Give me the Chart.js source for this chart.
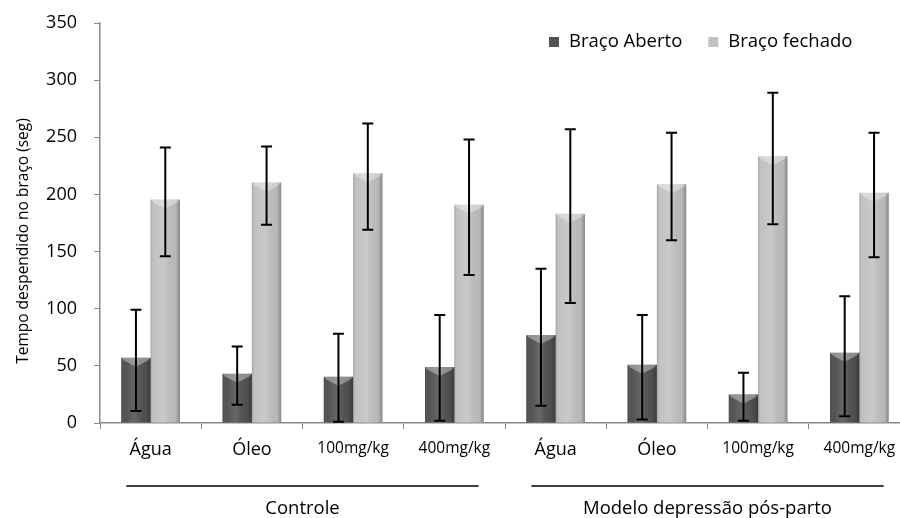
<!DOCTYPE html>
<html>
<head>
<meta charset="utf-8">
<script src="https://cdn.jsdelivr.net/npm/chart.js@4.4.1/dist/chart.umd.min.js"></script>
<style>
  html, body { margin: 0; padding: 0; background: #fff; overflow: hidden; }
  #cadre { width: 912px; height: 518px; }
</style>
</head>
<body>
<div id="cadre"><canvas id="grafico"></canvas></div>
<script>
// Dados
const categorias    = ['Água', 'Óleo', '100mg/kg', '400mg/kg', 'Água', 'Óleo', '100mg/kg', '400mg/kg'];
const bracoAberto   = [57, 43, 40.5, 49, 77, 51, 25, 61.5];
const abertoMin     = [10.5, 16, 1, 2, 15, 3, 2, 6];
const abertoMax     = [99, 67, 78, 94.5, 135, 94.5, 44, 111];
const bracoFechado  = [195.5, 210.5, 218.5, 191, 183, 209, 233.5, 201.5];
const fechadoMin    = [146, 173.5, 169, 129.5, 105, 160, 174, 145];
const fechadoMax    = [241, 242, 262, 248, 257, 254, 289, 254];
const grupos        = ['Controle', 'Modelo depressão pós-parto'];
const gruposInicio  = [0, 4];
const gruposFim     = [3, 7];
const tituloY       = 'Tempo despendido no braço (seg)';
const yMin = 0, yMax = 350, yPasso = 50;

const FONTE = "'Open Sans', 'Noto Sans', sans-serif";

// sombreado das barras + barras de erro
const estiloBarras = {
    id: 'estiloBarras',
    afterDatasetsDraw(chart) {
        const c = chart.ctx;
        const y = chart.scales.y;
        const erros = [[abertoMin, abertoMax], [fechadoMin, fechadoMax]];
        chart.data.datasets.forEach((ds, i) => {
            const meta = chart.getDatasetMeta(i);
            meta.data.forEach((bar, j) => {
                const esq = bar.x - bar.width / 2, dir = bar.x + bar.width / 2;
                const topo = bar.y, base = bar.base;
                // bordas escuras / centro claro
                const g = c.createLinearGradient(esq, 0, dir, 0);
                g.addColorStop(0, 'rgba(0,0,0,0.18)');
                g.addColorStop(0.12, 'rgba(255,255,255,0.0)');
                g.addColorStop(0.45, 'rgba(255,255,255,0.12)');
                g.addColorStop(0.85, 'rgba(0,0,0,0.05)');
                g.addColorStop(1, 'rgba(0,0,0,0.30)');
                c.save();
                c.fillStyle = g;
                c.fillRect(esq, topo, bar.width, base - topo);
                // chanfro claro no topo
                const h = Math.min(9, (base - topo) / 2);
                c.fillStyle = 'rgba(255,255,255,0.35)';
                c.beginPath();
                c.moveTo(esq, topo);
                c.lineTo(dir, topo);
                c.lineTo(dir - 3, topo + 3);
                c.lineTo(bar.x, topo + h);
                c.lineTo(esq + 3, topo + 3);
                c.closePath();
                c.fill();
                c.restore();

                // barra de erro
                const yb = y.getPixelForValue(erros[i][0][j]);
                const ya = y.getPixelForValue(erros[i][1][j]);
                c.save();
                c.strokeStyle = '#000';
                c.lineWidth = 2;
                c.beginPath();
                c.moveTo(bar.x, yb); c.lineTo(bar.x, ya);
                c.moveTo(bar.x - 5.5, ya); c.lineTo(bar.x + 5.5, ya);
                c.moveTo(bar.x - 5.5, yb); c.lineTo(bar.x + 5.5, yb);
                c.stroke();
                c.restore();
            });
        });
    }
};

// legenda, título do eixo Y e nomes dos grupos sob o eixo
const extras = {
    id: 'extras',
    afterDraw(chart) {
        const c = chart.ctx;
        const x = chart.scales.x;
        const area = chart.chartArea;
        const passo = x.getPixelForValue(1) - x.getPixelForValue(0);

        c.save();
        c.font = '18.5px ' + FONTE;
        c.fillStyle = '#000';
        c.textBaseline = 'middle';
        c.textAlign = 'center';
        grupos.forEach((nome, k) => {
            const x1 = x.getPixelForValue(gruposInicio[k]) - passo * 0.24;
            const x2 = x.getPixelForValue(gruposFim[k]) + passo * 0.24;
            const linhaY = area.bottom + 63;
            c.strokeStyle = '#000';
            c.lineWidth = 1.5;
            c.beginPath();
            c.moveTo(x1, linhaY); c.lineTo(x2, linhaY);
            c.stroke();
            c.fillText(nome, (x1 + x2) / 2, area.bottom + 86);
        });

        // título do eixo Y
        c.save();
        c.font = '15.5px ' + FONTE;
        c.translate(24, (area.top + area.bottom) / 2 + 18);
        c.rotate(-Math.PI / 2);
        c.fillText(tituloY, 0, 0);
        c.restore();

        // legenda
        c.font = '18.5px ' + FONTE;
        c.textAlign = 'left';
        const ly = area.top + 19;
        let lx = area.left + 449;
        chart.data.datasets.forEach(ds => {
            c.fillStyle = ds.backgroundColor;
            c.fillRect(lx, ly - 5, 10, 10);
            c.fillStyle = '#000';
            c.fillText(ds.label, lx + 20, ly);
            lx += 20 + c.measureText(ds.label).width + 26;
        });
        c.restore();
    }
};

const ctx = document.getElementById('grafico');

const grafico = new Chart(ctx, {
    type: 'bar',
    data: {
        labels: categorias,
        datasets: [{
            label: 'Braço Aberto',
            data: bracoAberto,
            backgroundColor: '#525252'
        }, {
            label: 'Braço fechado',
            data: bracoFechado,
            backgroundColor: '#c2c2c2'
        }]
    },
    options: {
        responsive: true,
        maintainAspectRatio: false,
        animation: false,
        layout: { padding: { top: 23, right: 2, left: 0, bottom: 0 } },
        datasets: { bar: { categoryPercentage: 0.58, barPercentage: 1.0 } },
        plugins: {
            legend: { display: false },
            tooltip: { enabled: false }
        },
        scales: {
            x: {
                grid: { drawOnChartArea: false, drawTicks: true, tickLength: 6, color: '#888', offset: true },
                border: { color: '#888', width: 1.5 },
                ticks: {
                    color: '#000',
                    padding: 10,
                    maxRotation: 0,
                    font: c => ({ family: FONTE, size: String(categorias[c.index]).includes('mg') ? 15.5 : 18 })
                },
                afterFit: s => { s.height = 95; }
            },
            y: {
                min: yMin,
                max: yMax,
                grid: { drawOnChartArea: false, drawTicks: true, tickLength: 6, color: '#888' },
                border: { color: '#888', width: 1.5 },
                ticks: {
                    stepSize: yPasso,
                    color: '#000',
                    padding: 17,
                    font: { family: FONTE, size: 18 }
                },
                afterFit: s => { s.width = 100; s.paddingTop = 0; s.paddingBottom = 0; }
            }
        }
    },
    plugins: [estiloBarras, extras]
});
</script>
</body>
</html>
